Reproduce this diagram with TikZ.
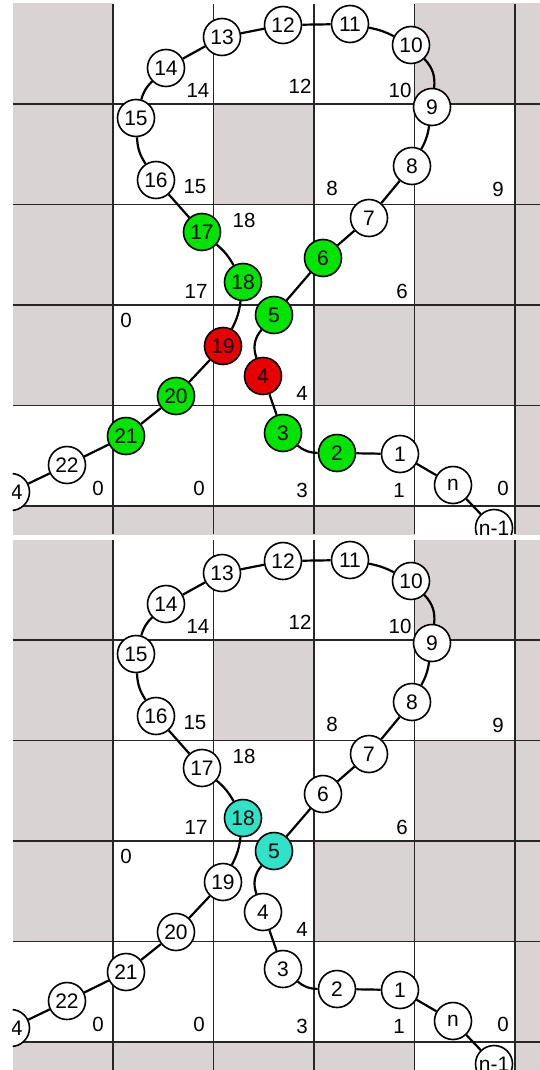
\documentclass[tikz,border=0pt]{standalone}
\usepackage{fontspec}
\setmainfont{Liberation Sans}
\usepackage{xcolor}
\usetikzlibrary{positioning,calc}

\definecolor{cellgrey}{RGB}{217,211,211}
\definecolor{beadgreen}{RGB}{0,228,0}
\definecolor{beadred}{RGB}{232,0,0}
\definecolor{beadcyan}{RGB}{47,226,200}

\tikzset{
  bead/.style={circle,draw,line width=1.6pt,fill=white,minimum size=37pt,inner sep=0pt,font=\fontsize{21}{21}\selectfont},
  cellnum/.style={inner sep=0pt,font=\fontsize{20.5}{21}\selectfont},
  link/.style={line width=2.2pt},
  gridline/.style={line width=1.4pt,draw=black!85},
  ok/.style={fill=beadgreen},
  bad/.style={fill=beadred},
  hit/.style={fill=beadcyan},
  % colours of the upper panel
  a-2/.style=ok, a-3/.style=ok, a-4/.style=bad, a-5/.style=ok, a-6/.style=ok,
  a-17/.style=ok, a-18/.style=ok, a-19/.style=bad, a-20/.style=ok, a-21/.style=ok,
  % colours of the lower panel
  b-5/.style=hit, b-18/.style=hit,
}

\newcommand{\ribbon}[2]{% #1 prefix, #2 shift
\begin{scope}[yshift=#2]
  \clip (12.5,-4) rectangle (540,-534);
  % shaded cells
  \foreach \c/\r in {0/0,4/0,5/0,0/1,2/1,5/1,0/2,4/2,5/2,0/3,3/3,4/3,5/3,5/4,0/5,1/5,2/5,3/5,5/5}
    \fill[cellgrey] ({12.5+100.5*\c},{-3.5-100.5*\r}) rectangle ++(100.5,-100.5);
  \foreach \k in {0,...,4} {
    \draw[gridline] ({113+100.5*\k},-4) -- ++(0,-530);
    \draw[gridline] (12.5,{-104-100.5*\k}) -- (540,{-104-100.5*\k});
  }
  % cell numbers
  \foreach \x/\y/\t [count=\i] in {198/90/14,300/86/12,400/90/10,195/187/15,332/188/8,498/189/9,
      244/220/18,196/291/17,402/291/6,126/320/0,302/393/4,98/488/0,199/488/0,302/490/3,399/490/1,503/488/0}
    \node[cellnum] (#1c\i) at (\x,-\y) {\t};
  % beads
  \foreach \n/\x/\y/\t in {1/400/454/1,2/337/453/2,3/283/433/3,4/263/376/4,5/274/315/5,6/323/258/6,
      7/369/218/7,8/412/166/8,9/432/107/9,10/411/45/10,11/350/24/11,12/283/25/12,13/222/37/13,
      14/166/68/14,15/136/118/15,16/156/180/16,17/202/232/17,18/243/282/18,19/223/346/19,
      20/176/396/20,21/126/436/21,22/67/465/22,24/11/492/24,n/453/485/n,m/494/528/n-1}
    \node[bead,#1-\n/.try] (#1\n) at (\x,-\y) {\t};
  % chain
  \foreach \u/\v/\b in {24/22/0,22/21/0,21/20/0,20/19/0,19/18/-10,18/17/-10,17/16/0,16/15/15,
      15/14/15,14/13/0,13/12/0,12/11/0,11/10/8,10/9/25,9/8/10,8/7/0,7/6/0,6/5/0,5/4/-30,
      4/3/0,3/2/-20,2/1/0,1/n/0,n/m/0}
    \draw[link] (#1\u) to[bend left=\b] (#1\v);
\end{scope}}

\begin{document}
\begin{tikzpicture}[x=1pt,y=1pt]
  \fill[white] (0,0) rectangle (540,-1070);
  \useasboundingbox (0,0) rectangle (540,-1070);
  \ribbon{a}{0pt}
  \ribbon{b}{-536pt}
\end{tikzpicture}
\end{document}
